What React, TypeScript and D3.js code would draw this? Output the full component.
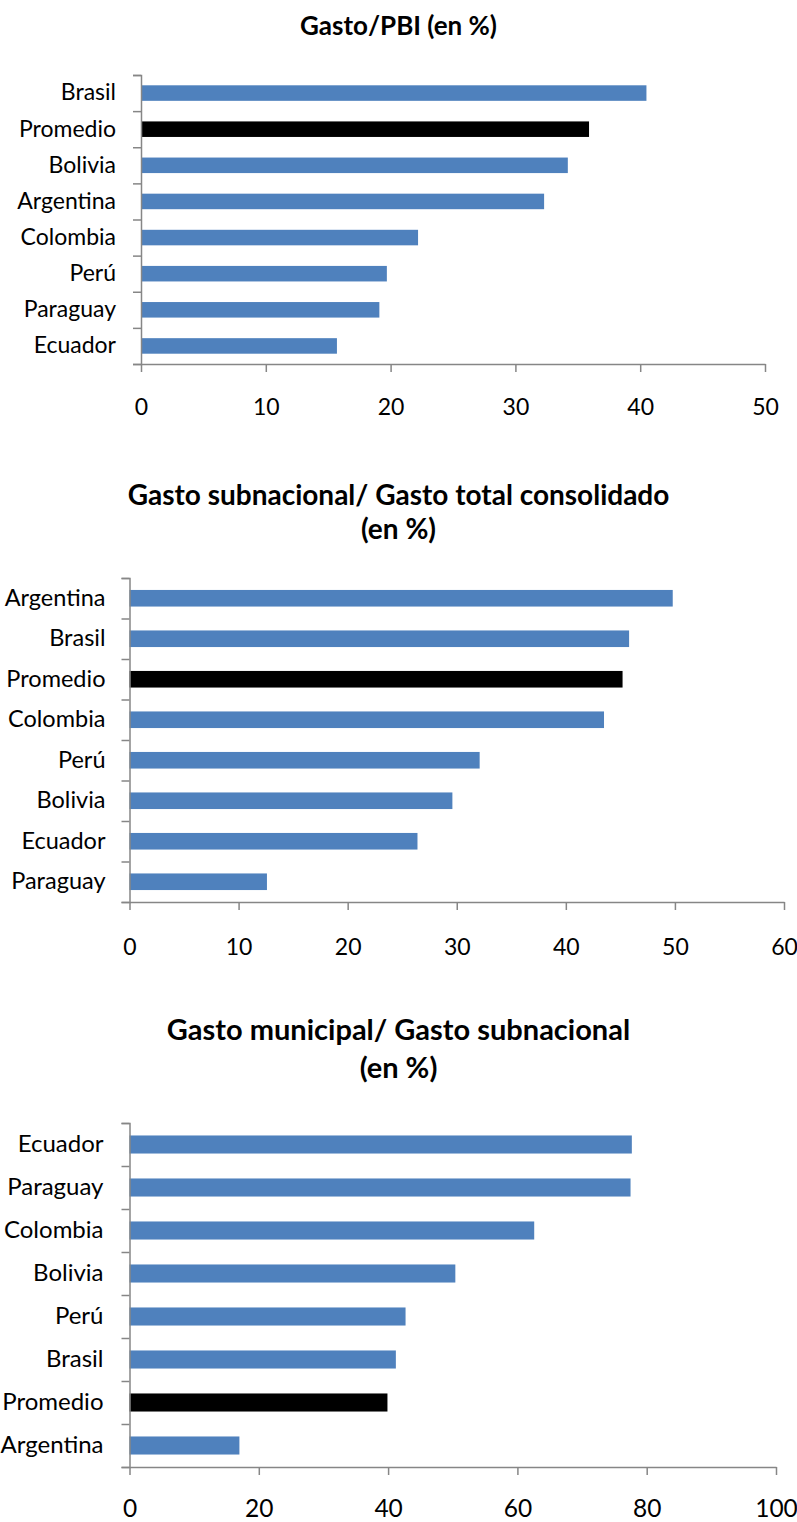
import { useRef, useEffect } from 'react';
import * as d3 from 'd3';

// Chart 1: Gasto/PBI
const pbiCategories = ['Brasil', 'Promedio', 'Bolivia', 'Argentina', 'Colombia', 'Perú', 'Paraguay', 'Ecuador'];
const pbiValues = [40.5, 35.9, 34.2, 32.3, 22.2, 19.7, 19.1, 15.7];
const pbiTicks = [0, 10, 20, 30, 40, 50];

// Chart 2: Gasto subnacional / Gasto total consolidado
const subCategories = ['Argentina', 'Brasil', 'Promedio', 'Colombia', 'Perú', 'Bolivia', 'Ecuador', 'Paraguay'];
const subValues = [49.8, 45.8, 45.2, 43.5, 32.1, 29.6, 26.4, 12.6];
const subTicks = [0, 10, 20, 30, 40, 50, 60];

// Chart 3: Gasto municipal / Gasto subnacional
const munCategories = ['Ecuador', 'Paraguay', 'Colombia', 'Bolivia', 'Perú', 'Brasil', 'Promedio', 'Argentina'];
const munValues = [77.7, 77.5, 62.6, 50.4, 42.7, 41.2, 39.9, 17.0];
const munTicks = [0, 20, 40, 60, 80, 100];

const BLUE = '#4F81BD';
const AXIS = '#868686';
const FONT = "Lato, 'Open Sans', sans-serif";

interface ChartSpec {
  title: string[];
  titleY: number[];
  titleSize: number;
  categories: string[];
  values: number[];
  ticks: number[];
  x0: number;
  x1: number;
  top: number;
  bottom: number;
  barRatio: number;
  labelPad: number;
  labelSize: number;
  tickSize: number;
  tickLabelY: number;
}

const charts: ChartSpec[] = [
  {
    title: ['Gasto/PBI (en %)'],
    titleY: [35],
    titleSize: 26,
    categories: pbiCategories,
    values: pbiValues,
    ticks: pbiTicks,
    x0: 141, x1: 765, top: 75, bottom: 364,
    barRatio: 0.43, labelPad: 25, labelSize: 23, tickSize: 23, tickLabelY: 51,
  },
  {
    title: ['Gasto subnacional/ Gasto total consolidado', '(en %)'],
    titleY: [505, 539],
    titleSize: 28,
    categories: subCategories,
    values: subValues,
    ticks: subTicks,
    x0: 129.5, x1: 784, top: 578, bottom: 902,
    barRatio: 0.41, labelPad: 24, labelSize: 23.5, tickSize: 23, tickLabelY: 53,
  },
  {
    title: ['Gasto municipal/ Gasto subnacional', '(en %)'],
    titleY: [1040, 1078],
    titleSize: 29,
    categories: munCategories,
    values: munValues,
    ticks: munTicks,
    x0: 129.5, x1: 776, top: 1123, bottom: 1467,
    barRatio: 0.42, labelPad: 26, labelSize: 24, tickSize: 24.5, tickLabelY: 50,
  },
];

const W = 797;
const H = 1522;

export default function App() {
  const svgRef = useRef<SVGSVGElement>(null);

  useEffect(() => {
    if (!svgRef.current) return;
    const svg = d3.select(svgRef.current);
    svg.selectAll('*').remove();

    charts.forEach((c) => {
      const g = svg.append('g');

      const x = d3.scaleLinear()
        .domain([c.ticks[0], c.ticks[c.ticks.length - 1]])
        .range([c.x0, c.x1]);

      const pad = 1 - c.barRatio;
      const y = d3.scaleBand<string>()
        .domain(c.categories)
        .range([c.top, c.bottom])
        .paddingInner(pad)
        .paddingOuter(pad / 2);

      // title
      c.title.forEach((line, i) => {
        g.append('text')
          .attr('x', W / 2)
          .attr('y', c.titleY[i])
          .attr('text-anchor', 'middle')
          .style('font-family', FONT)
          .style('font-weight', 700)
          .style('font-size', `${c.titleSize}px`)
          .style('fill', '#000')
          .text(line);
      });

      // bars
      g.selectAll('.bar')
        .data(c.categories)
        .enter()
        .append('rect')
        .attr('class', 'bar')
        .attr('x', x(0))
        .attr('y', (d) => y(d) || 0)
        .attr('width', (_, i) => x(c.values[i]) - x(0))
        .attr('height', y.bandwidth())
        .attr('fill', (d) => (d === 'Promedio' ? '#000' : BLUE));

      // boundary ticks on the category axis
      const yIdx = d3.scaleLinear().domain([0, c.categories.length]).range([c.top, c.bottom]);
      const yTicks = g.append('g')
        .attr('transform', `translate(${c.x0},0)`)
        .call(d3.axisLeft(yIdx)
          .ticks(c.categories.length)
          .tickFormat(() => '')
          .tickSize(8)
          .tickSizeOuter(8));
      yTicks.selectAll('path, line')
        .attr('stroke', AXIS)
        .attr('stroke-width', 1.5);

      // category labels
      const yLab = g.append('g')
        .attr('transform', `translate(${c.x0},0)`)
        .call(d3.axisLeft(y).tickSize(0).tickPadding(c.labelPad));
      yLab.select('.domain').remove();
      yLab.selectAll('text')
        .style('font-family', FONT)
        .style('font-size', `${c.labelSize}px`)
        .style('fill', '#000');

      // value axis
      const xAxis = g.append('g')
        .attr('transform', `translate(0,${c.bottom})`)
        .call(d3.axisBottom(x)
          .tickValues(c.ticks)
          .tickFormat(d3.format('d'))
          .tickSize(8)
          .tickSizeOuter(0));
      xAxis.selectAll('path, line')
        .attr('stroke', AXIS)
        .attr('stroke-width', 1.5);
      xAxis.selectAll('text')
        .attr('y', c.tickLabelY)
        .attr('dy', 0)
        .style('font-family', FONT)
        .style('font-size', `${c.tickSize}px`)
        .style('fill', '#000');
    });
  }, []);

  return (
    <div style={{ position: 'absolute', left: 0, top: 0, width: W, height: H, background: '#fff' }}>
      <svg ref={svgRef} width={W} height={H} style={{ display: 'block' }} />
    </div>
  );
}
